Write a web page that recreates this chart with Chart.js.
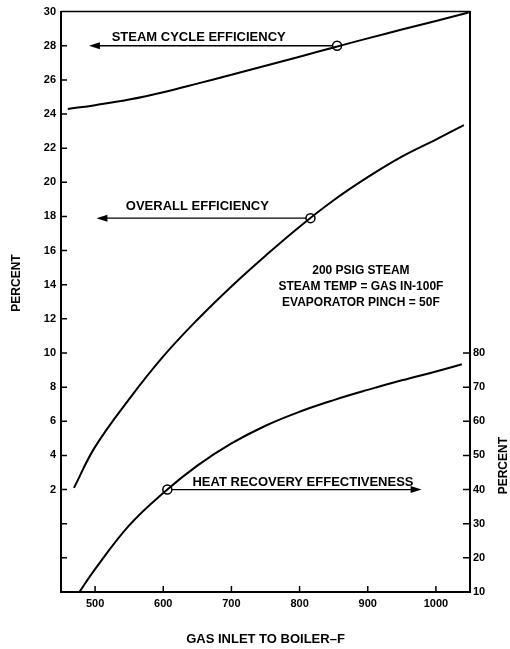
<!DOCTYPE html>
<html>
<head>
<meta charset="utf-8">
<script src="https://cdn.jsdelivr.net/npm/chart.js@4/dist/chart.umd.min.js"></script>
<style>
  html, body { margin: 0; padding: 0; background: #fff; }
</style>
</head>
<body>
<canvas id="chart" width="510" height="649"></canvas>
<script>
// gas inlet temperature (F) vs percent
const steamX = [460, 500, 550, 600, 650, 700, 750, 800, 850, 900, 950, 1000, 1048];
const steamY = [24.3, 24.52, 24.85, 25.28, 25.78, 26.3, 26.83, 27.36, 27.9, 28.43, 28.95, 29.45, 29.95];

const overallX = [469, 500, 550, 600, 650, 700, 750, 800, 850, 900, 950, 1000, 1041];
const overallY = [2.1, 4.5, 7.3, 9.8, 11.95, 13.9, 15.7, 17.4, 18.95, 20.3, 21.5, 22.5, 23.35];

// heat recovery effectiveness goes on the right hand axis
const heatX = [477, 500, 550, 600, 650, 700, 750, 800, 850, 900, 950, 1000, 1038];
const heatY = [10, 16.7, 29.5, 39, 47, 53.5, 58.7, 62.8, 66.2, 69.2, 72, 74.6, 76.7];

const xTicks = [500, 600, 700, 800, 900, 1000];
const leftTicks = [-2, 0, 2, 4, 6, 8, 10, 12, 14, 16, 18, 20, 22, 24, 26, 28, 30];
const rightTicks = [10, 20, 30, 40, 50, 60, 70, 80];

// circled point on each curve and where its arrow points
const markers = [
  { x: 855, y: 28, axis: 'y', toX: 491, text: 'STEAM CYCLE EFFICIENCY', tx: 652, ty: 28.5 },
  { x: 816, y: 17.9, axis: 'y', toX: 502, text: 'OVERALL EFFICIENCY', tx: 650, ty: 18.6 },
  { x: 606, y: 40, axis: 'y1', toX: 979, text: 'HEAT RECOVERY EFFECTIVENESS', tx: 805, ty: 42.2 }
];
const noteLines = ['200 PSIG STEAM', 'STEAM TEMP = GAS IN-100F', 'EVAPORATOR PINCH = 50F'];

const pts = (xs, ys) => xs.map((x, i) => ({ x: x, y: ys[i] }));
const FONT = '"Liberation Sans", Arial, sans-serif';

const extras = {
  id: 'extras',
  afterDatasetsDraw(chart) {
    const { ctx, chartArea: a, scales } = chart;
    ctx.save();
    ctx.strokeStyle = '#000';
    ctx.fillStyle = '#000';

    // top frame line
    ctx.lineWidth = 1.5;
    ctx.beginPath();
    ctx.moveTo(a.left, a.top);
    ctx.lineTo(a.right, a.top);
    ctx.stroke();

    // inward tick marks
    ctx.lineWidth = 1.5;
    ctx.beginPath();
    xTicks.forEach(v => {
      const p = scales.x.getPixelForValue(v);
      ctx.moveTo(p, a.bottom); ctx.lineTo(p, a.bottom - 6);
    });
    leftTicks.slice(0, -1).forEach(v => {
      const p = scales.y.getPixelForValue(v);
      ctx.moveTo(a.left, p); ctx.lineTo(a.left + 6, p);
    });
    rightTicks.slice(1).forEach(v => {
      const p = scales.y1.getPixelForValue(v);
      ctx.moveTo(a.right, p); ctx.lineTo(a.right - 7, p);
    });
    ctx.stroke();

    // arrows + labels
    ctx.font = 'bold 13px ' + FONT;
    ctx.textAlign = 'center';
    ctx.textBaseline = 'middle';
    markers.forEach(m => {
      const ys = scales[m.axis];
      const x0 = scales.x.getPixelForValue(m.x);
      const x1 = scales.x.getPixelForValue(m.toX);
      const y = ys.getPixelForValue(m.y);
      const dir = x1 > x0 ? 1 : -1;
      ctx.lineWidth = 1.3;
      ctx.beginPath();
      ctx.moveTo(x0 + dir * 4, y);
      ctx.lineTo(x1 - dir * 8, y);
      ctx.stroke();
      ctx.beginPath();
      ctx.moveTo(x1, y);
      ctx.lineTo(x1 - dir * 11, y - 3.5);
      ctx.lineTo(x1 - dir * 11, y + 3.5);
      ctx.closePath();
      ctx.fill();
      ctx.fillText(m.text, scales.x.getPixelForValue(m.tx), ys.getPixelForValue(m.ty));
    });

    // conditions note
    ctx.font = 'bold 12px ' + FONT;
    const nx = scales.x.getPixelForValue(890);
    noteLines.forEach((t, i) => {
      ctx.fillText(t, nx, scales.y.getPixelForValue(14.84 - i * 0.96));
    });

    // rotated axis titles, both read bottom to top
    ctx.font = 'bold 12px ' + FONT;
    ctx.save();
    ctx.translate(17, scales.y.getPixelForValue(14.1));
    ctx.rotate(-Math.PI / 2);
    ctx.fillText('PERCENT', 0, 0);
    ctx.restore();
    ctx.save();
    ctx.translate(504, scales.y1.getPixelForValue(47));
    ctx.rotate(-Math.PI / 2);
    ctx.fillText('PERCENT', 0, 0);
    ctx.restore();

    ctx.restore();
  }
};

const curve = (data, axis) => ({
  type: 'line',
  data: data,
  yAxisID: axis,
  borderColor: '#000',
  borderWidth: 2,
  pointRadius: 0,
  fill: false,
  tension: 0.4
});
const ring = (m) => ({
  type: 'scatter',
  data: [{ x: m.x, y: m.y }],
  yAxisID: m.axis,
  pointRadius: 4.5,
  pointBorderWidth: 1.5,
  pointBorderColor: '#000',
  pointBackgroundColor: 'rgba(0,0,0,0)',
  showLine: false
});

const tickFont = { family: FONT, size: 11, weight: 'bold' };

new Chart(document.getElementById('chart'), {
  type: 'line',
  data: {
    datasets: [
      curve(pts(steamX, steamY), 'y'),
      curve(pts(overallX, overallY), 'y'),
      curve(pts(heatX, heatY), 'y1'),
      ...markers.map(ring)
    ]
  },
  options: {
    responsive: false,
    animation: false,
    layout: { padding: { top: 10, left: 0, right: 0, bottom: 0 } },
    plugins: { legend: { display: false }, tooltip: { enabled: false } },
    scales: {
      x: {
        type: 'linear',
        position: 'bottom',
        min: 450, max: 1050,
        afterBuildTicks: s => { s.ticks = xTicks.map(v => ({ value: v })); },
        afterFit: s => { s.height = 57; },
        grid: { display: false, drawTicks: false },
        border: { display: true, color: '#000', width: 2 },
        ticks: { color: '#000', font: tickFont, padding: 5, maxRotation: 0, callback: v => String(v) },
        title: {
          display: true,
          text: 'GAS INLET TO BOILER–F',
          color: '#000',
          font: { family: FONT, size: 13, weight: 'bold' },
          padding: { top: 0, bottom: 2 }
        }
      },
      y: {
        type: 'linear',
        position: 'left',
        min: -4, max: 30,
        afterBuildTicks: s => { s.ticks = leftTicks.map(v => ({ value: v })); },
        afterFit: s => { s.width = 61; },
        grid: { display: false, drawTicks: false },
        border: { display: true, color: '#000', width: 2 },
        ticks: { color: '#000', font: tickFont, padding: 5, callback: v => (v >= 2 ? String(v) : '') }
      },
      y1: {
        type: 'linear',
        position: 'right',
        min: 10, max: 180,
        afterBuildTicks: s => { s.ticks = rightTicks.map(v => ({ value: v })); },
        afterFit: s => { s.width = 40; },
        grid: { display: false, drawTicks: false },
        border: { display: true, color: '#000', width: 2 },
        ticks: { color: '#000', font: tickFont, padding: 3, callback: v => String(v) }
      }
    }
  },
  plugins: [extras]
});
</script>
</body>
</html>
